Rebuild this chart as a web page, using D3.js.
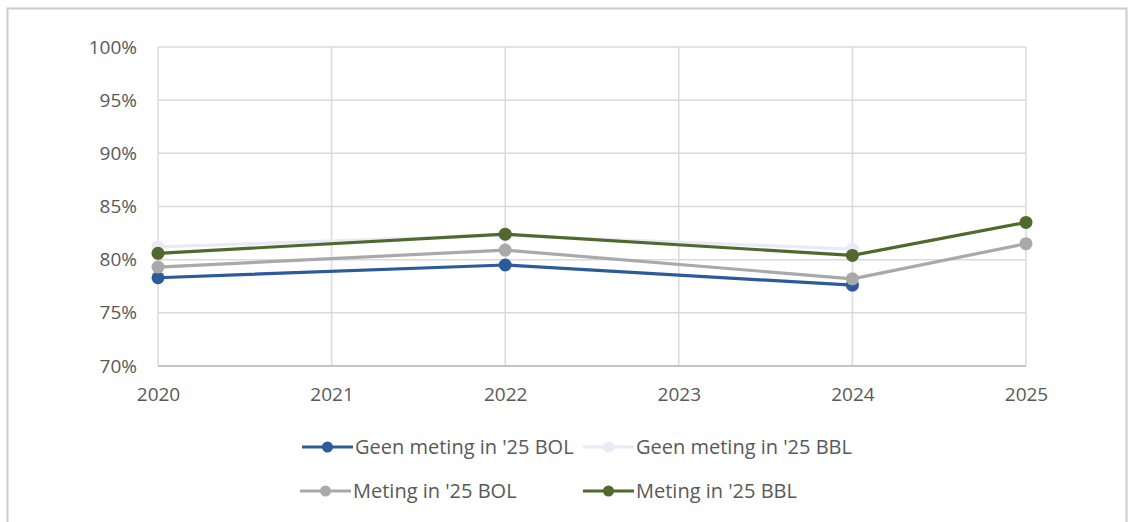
<!DOCTYPE html>
<html><head><meta charset="utf-8">
<script src="https://cdn.jsdelivr.net/npm/d3@7"></script>
<style>
html,body{margin:0;padding:0;background:#fff;}
svg{display:block;font-family:"Open Sans", sans-serif;}
</style></head>
<body>
<svg id="chart" width="1129" height="522"></svg>
<script>
const years = [2020, 2021, 2022, 2023, 2024, 2025];
const yTicks = [0.70, 0.75, 0.80, 0.85, 0.90, 0.95, 1.00];
const seriesNames = ["Geen meting in '25 BOL", "Geen meting in '25 BBL", "Meting in '25 BOL", "Meting in '25 BBL"];
const geenYears = [2020, 2022, 2024];
const metingYears = [2020, 2022, 2024, 2025];
const geenBOL = [0.783, 0.795, 0.776];
const geenBBL = [0.812, 0.823, 0.810];
const metingBOL = [0.793, 0.809, 0.782, 0.815];
const metingBBL = [0.806, 0.824, 0.804, 0.835];
const colors = ["#2c5a9c", "#e9e9f8", "#a9a9a9", "#4f6a2c"];

const svg = d3.select("#chart");
svg.append("rect").attr("x", 7.5).attr("y", 8.5).attr("width", 1119).attr("height", 530)
  .attr("fill", "none").attr("stroke", "#c8ccd0").attr("stroke-width", 2);

const x = d3.scaleLinear().domain([2020, 2025]).range([158, 1026]);
const y = d3.scaleLinear().domain([0.70, 1.00]).range([366, 47]);

const g = svg.append("g");
g.selectAll("line.h").data(yTicks).join("line")
  .attr("x1", x(2020)).attr("x2", x(2025))
  .attr("y1", d => y(d)).attr("y2", d => y(d))
  .attr("stroke", "#dadada").attr("stroke-width", 1.5);
g.selectAll("line.v").data(years).join("line")
  .attr("x1", d => x(d)).attr("x2", d => x(d))
  .attr("y1", y(1.0)).attr("y2", y(0.70))
  .attr("stroke", "#dadada").attr("stroke-width", 1.5);
g.append("line").attr("x1", x(2020)).attr("x2", x(2025)).attr("y1", y(0.70)).attr("y2", y(0.70))
  .attr("stroke", "#c4c4c4").attr("stroke-width", 2);

const yAxis = d3.axisLeft(y).tickValues(yTicks).tickFormat(d3.format(".0%")).tickSize(0).tickPadding(21);
const ya = svg.append("g").attr("transform", `translate(${x(2020)},0)`).call(yAxis);
ya.select(".domain").remove();
ya.selectAll("text").attr("font-size", 19).attr("fill", "#595959").attr("font-family", "'Open Sans', sans-serif");

const xAxis = d3.axisBottom(x).tickValues(years).tickFormat(d3.format("d")).tickSize(0).tickPadding(22);
const xa = svg.append("g").attr("transform", `translate(0,${y(0.70)})`).call(xAxis);
xa.select(".domain").remove();
xa.selectAll("text").attr("font-size", 19).attr("fill", "#595959").attr("font-family", "'Open Sans', sans-serif");

const series = [
  {name: seriesNames[0], xs: geenYears, vs: geenBOL, c: colors[0]},
  {name: seriesNames[1], xs: geenYears, vs: geenBBL, c: colors[1]},
  {name: seriesNames[2], xs: metingYears, vs: metingBOL, c: colors[2]},
  {name: seriesNames[3], xs: metingYears, vs: metingBBL, c: colors[3]}
];
const line = d3.line().x(d => x(d[0])).y(d => y(d[1]));
[1, 0, 2, 3].forEach(i => {
  const s = series[i];
  const pts = s.xs.map((yr, k) => [yr, s.vs[k]]);
  svg.append("path").datum(pts).attr("d", line).attr("fill", "none")
    .attr("stroke", s.c).attr("stroke-width", 3.2).attr("stroke-linejoin", "round");
  svg.selectAll(null).data(pts).join("circle")
    .attr("cx", d => x(d[0])).attr("cy", d => y(d[1])).attr("r", 6.5)
    .attr("fill", s.c);
});

const legPos = [[302, 447], [583, 447], [300, 491], [583, 491]];
series.forEach((s, i) => {
  const [lx, ly] = legPos[i];
  const lg = svg.append("g").attr("transform", `translate(${lx},${ly})`);
  lg.append("line").attr("x1", 0).attr("x2", 51).attr("y1", 0).attr("y2", 0)
    .attr("stroke", s.c).attr("stroke-width", 3.2);
  lg.append("circle").attr("cx", 25.5).attr("cy", 0).attr("r", 5.5).attr("fill", s.c);
  lg.append("text").attr("x", 53).attr("y", 0).attr("dy", "0.36em")
    .attr("font-size", 20).attr("fill", "#595959").attr("font-family", "'Open Sans', sans-serif")
    .text(s.name);
});
</script>
</body></html>
